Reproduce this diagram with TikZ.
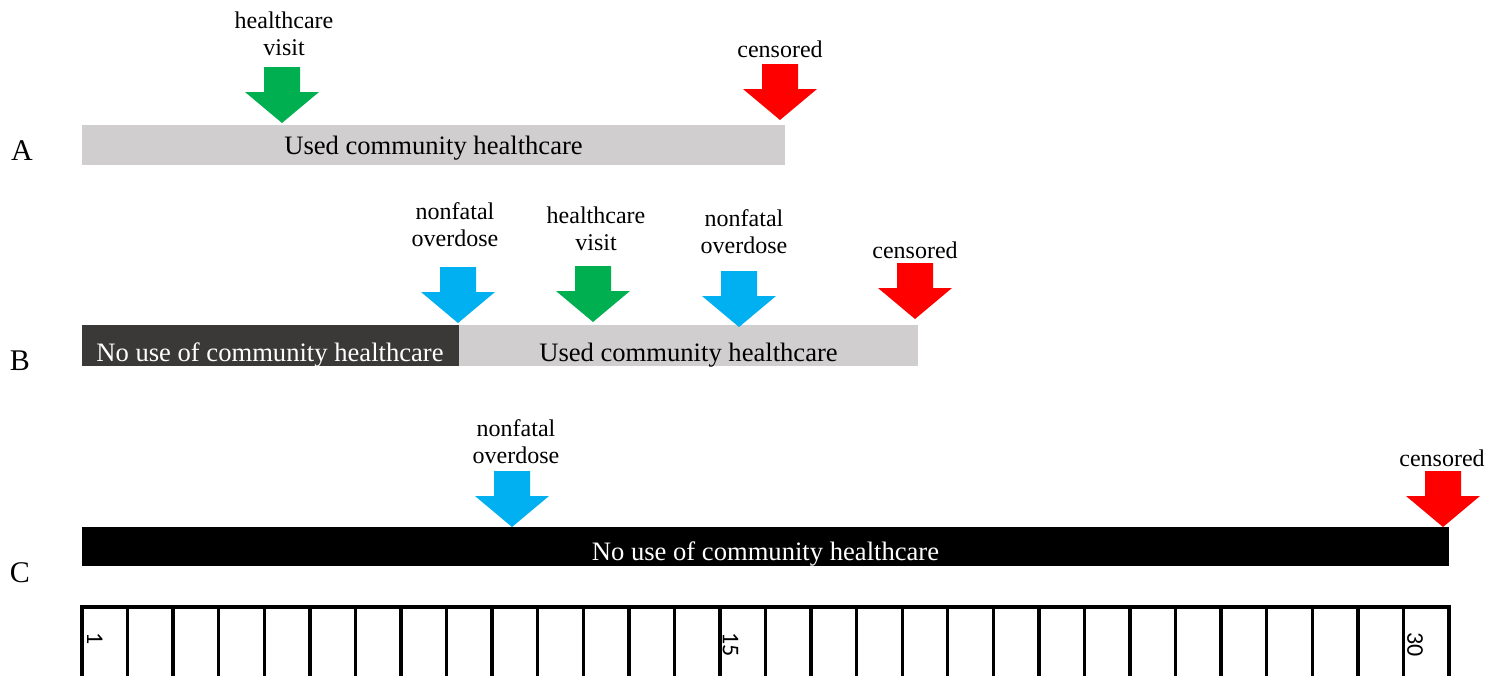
\documentclass[tikz,border=0pt]{standalone}
\usepackage{fontspec}
\setmainfont{Liberation Serif}
\newfontfamily\numfont{Carlito}
\usetikzlibrary{calc}

\definecolor{usedgray}{HTML}{D0CECE}
\definecolor{nousedark}{HTML}{3B3838}
\definecolor{visitgreen}{HTML}{00B050}
\definecolor{odblue}{HTML}{00B0F0}
\definecolor{censred}{HTML}{FF0000}

\tikzset{
  event/.pic={\fill[#1] (0,0) -- (-37,-31) -- (-18,-31) -- (-18,-56) -- (18,-56) -- (18,-31) -- (37,-31) -- cycle;},
  evlabel/.style={align=center, font=\fontsize{12}{13.5}\selectfont, inner sep=0pt},
  bartext/.style={font=\fontsize{13.3}{15}\selectfont, inner sep=0pt},
  rowlabel/.style={font=\fontsize{15}{17}\selectfont, inner sep=0pt, anchor=base},
  daynum/.style={font=\numfont\fontsize{12}{13}\selectfont, rotate=-90, anchor=base west, inner sep=0pt},
  tick/.style={line width=1.7pt, line cap=rect},
}

\begin{document}
\begin{tikzpicture}[x=0.5pt, y=-0.5pt]
  \useasboundingbox (0,0) rectangle (1499,675);

  % row A
  \node[rowlabel] (rowA) at (22,160) {A};
  \fill[usedgray] (82,125) rectangle (785,165);
  \node[bartext] (usedA) at (433.5,148) {Used community healthcare};
  \pic at (282,123) {event=visitgreen};
  \node[evlabel] (visitA) at (284,34) {healthcare\\visit};
  \pic at (780,120) {event=censred};
  \node[evlabel] (censA) at (780,49) {censored};

  % row B
  \node[rowlabel] (rowB) at (20,370) {B};
  \fill[nousedark] (82,325) rectangle (459,366);
  \fill[usedgray] (459,325) rectangle (918,366);
  \node[bartext, text=white] (nouseB) at (270,355) {No use of community healthcare};
  \node[bartext] (usedB) at (688.5,355) {Used community healthcare};
  \pic at (458,323) {event=odblue};
  \node[evlabel] (odB1) at (455,225) {nonfatal\\overdose};
  \pic at (593,322) {event=visitgreen};
  \node[evlabel] (visitB) at (596,229) {healthcare\\visit};
  \pic at (739,327) {event=odblue};
  \node[evlabel] (odB2) at (744,232) {nonfatal\\overdose};
  \pic at (915,319) {event=censred};
  \node[evlabel] (censB) at (915,250) {censored};

  % row C
  \node[rowlabel] (rowC) at (20,582) {C};
  \fill[black] (82,527) rectangle (1449,566);
  \node[bartext, text=white] (nouseC) at (765.5,554) {No use of community healthcare};
  \pic at (512,527) {event=odblue};
  \node[evlabel] (odC) at (516,442) {nonfatal\\overdose};
  \pic at (1443,527) {event=censred};
  \node[evlabel] (censC) at (1442,458) {censored};

  % day ruler
  \draw[tick] (82,607) -- (1449,607);
  \foreach \d in {0,...,30}
    \draw[tick] ({82+\d*45.567},607) -- ({82+\d*45.567},675);
  \node[daynum] (day1) at (87,632) {1};
  \node[daynum] (day15) at ({82+14*45.567+3},632) {15};
  \node[daynum] (day30) at ({82+29*45.567+4},632) {30};
\end{tikzpicture}
\end{document}
